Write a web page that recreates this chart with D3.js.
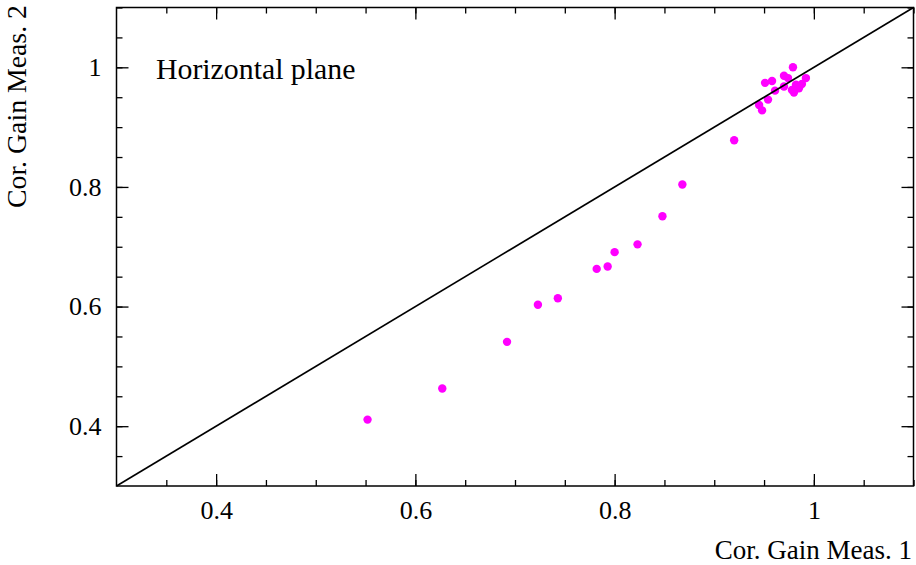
<!DOCTYPE html>
<html>
<head>
<meta charset="utf-8">
<script src="https://cdn.jsdelivr.net/npm/d3@7"></script>
<style>
  html, body { margin: 0; padding: 0; background: #fff; }
  svg { display: block; }
  text { font-family: "Liberation Serif", "Times New Roman", serif; fill: #000; }
</style>
</head>
<body>
<svg id="chart" width="916" height="565"></svg>
<script>
// Corrected gain, measurement 1 vs measurement 2 (horizontal plane)
const gainMeas1 = [0.552, 0.627, 0.692, 0.723, 0.743, 0.782, 0.793, 0.800, 0.823, 0.848,
                   0.868, 0.920, 0.979, 0.958, 0.951, 0.970, 0.974, 0.992, 0.961, 0.970,
                   0.978, 0.982, 0.988, 0.985, 0.980, 0.954, 0.945, 0.948];
const gainMeas2 = [0.411, 0.463, 0.541, 0.603, 0.614, 0.663, 0.667, 0.691, 0.704, 0.751,
                   0.804, 0.878, 1.000, 0.977, 0.974, 0.986, 0.982, 0.982, 0.961, 0.968,
                   0.962, 0.971, 0.972, 0.965, 0.958, 0.946, 0.937, 0.928];
const axisRange = [0.3, 1.1];
const majorTicks = [0.4, 0.6, 0.8, 1.0];
const minorTicks = d3.range(0.35, 1.1, 0.05).map(v => +v.toFixed(2));
const tickLabel = v => (v === 1 ? "1" : d3.format(".1f")(v));
const xTitle = "Cor. Gain Meas. 1";
const yTitle = "Cor. Gain Meas. 2";
const panelTitle = "Horizontal plane";

const svg = d3.select("#chart");
const L = 116.5, R = 913.5, T = 7.5, B = 486;

const x = d3.scaleLinear().domain(axisRange).range([L, R]);
const y = d3.scaleLinear().domain(axisRange).range([B, T]);

function styleAxis(g) {
  g.select(".domain").remove();
  g.selectAll(".tick line").attr("stroke", "#000").attr("stroke-width", 1.3);
  g.selectAll(".tick text").style("font-size", "26px").style("font-family", "Liberation Serif");
}

// minor ticks on all four sides, pointing inward
svg.append("g").attr("transform", `translate(0,${B})`)
  .call(d3.axisBottom(x).tickValues(minorTicks).tickSize(-6).tickFormat(""))
  .call(styleAxis);
svg.append("g").attr("transform", `translate(0,${T})`)
  .call(d3.axisTop(x).tickValues(minorTicks).tickSize(-6).tickFormat(""))
  .call(styleAxis);
svg.append("g").attr("transform", `translate(${L},0)`)
  .call(d3.axisLeft(y).tickValues(minorTicks).tickSize(-6).tickFormat(""))
  .call(styleAxis);
svg.append("g").attr("transform", `translate(${R},0)`)
  .call(d3.axisRight(y).tickValues(minorTicks).tickSize(-6).tickFormat(""))
  .call(styleAxis);

// major ticks with labels on bottom and left, plain on top and right
svg.append("g").attr("transform", `translate(0,${B})`)
  .call(d3.axisBottom(x).tickValues(majorTicks).tickSize(-12).tickPadding(15).tickFormat(tickLabel))
  .call(styleAxis);
svg.append("g").attr("transform", `translate(0,${T})`)
  .call(d3.axisTop(x).tickValues(majorTicks).tickSize(-12).tickFormat(""))
  .call(styleAxis);
svg.append("g").attr("transform", `translate(${L},0)`)
  .call(d3.axisLeft(y).tickValues(majorTicks).tickSize(-12).tickPadding(15).tickFormat(tickLabel))
  .call(styleAxis);
svg.append("g").attr("transform", `translate(${R},0)`)
  .call(d3.axisRight(y).tickValues(majorTicks).tickSize(-12).tickFormat(""))
  .call(styleAxis);

// data points
svg.append("g").selectAll("circle")
  .data(gainMeas1.map((v, i) => [v, gainMeas2[i]]))
  .join("circle")
  .attr("cx", d => x(d[0]))
  .attr("cy", d => y(d[1]))
  .attr("r", 4.2)
  .attr("fill", "#ff00ff");

// y = x reference line
svg.append("line")
  .attr("x1", x(axisRange[0])).attr("y1", y(axisRange[0]))
  .attr("x2", x(axisRange[1])).attr("y2", y(axisRange[1]))
  .attr("stroke", "#000").attr("stroke-width", 1.6);

// frame
svg.append("rect")
  .attr("x", L).attr("y", T).attr("width", R - L).attr("height", B - T)
  .attr("fill", "none").attr("stroke", "#000").attr("stroke-width", 1.5);

// titles
svg.append("text")
  .attr("x", 912).attr("y", 559)
  .attr("text-anchor", "end")
  .style("font-size", "27px")
  .text(xTitle);

svg.append("text")
  .attr("transform", "translate(26,5) rotate(-90)")
  .attr("text-anchor", "end")
  .style("font-size", "27.8px")
  .text(yTitle);

svg.append("text")
  .attr("x", 156).attr("y", 79)
  .style("font-size", "29.8px")
  .text(panelTitle);
</script>
</body>
</html>
